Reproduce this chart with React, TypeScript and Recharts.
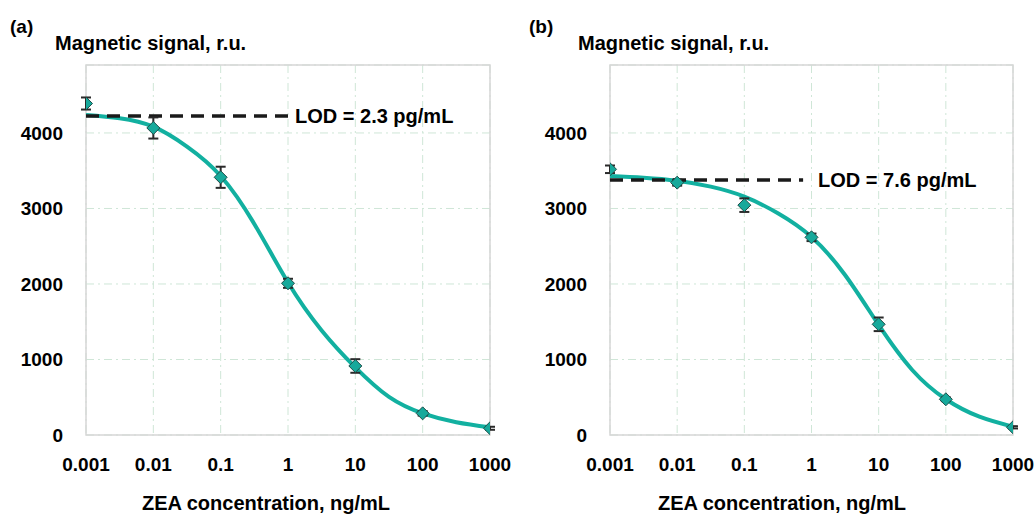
import React from 'react';
import {
  ComposedChart,
  Line,
  Scatter,
  ErrorBar,
  XAxis,
  YAxis,
  CartesianGrid,
  ReferenceLine,
  ReferenceArea,
} from 'recharts';

// Concentrations (ng/mL)
const concentrations = [0.001, 0.01, 0.1, 1, 10, 100, 1000];
const xTicks = [0.001, 0.01, 0.1, 1, 10, 100, 1000];
const yTicks = [0, 1000, 2000, 3000, 4000];

// Panel (a) measured points
const signalA = [4390, 4066, 3413, 2009, 914, 287, 89];
const errA = [80, 140, 140, 60, 90, 30, 20];
// Panel (b) measured points
const signalB = [3519, 3342, 3044, 2618, 1466, 473, 102];
const errB = [50, 40, 90, 50, 90, 25, 15];

// Fitted curves at decades and half-decades
const curveX = [0.001, 0.00316, 0.01, 0.0316, 0.1, 0.316, 1, 3.16, 10, 31.6, 100, 316, 1000];
const curveA = [4238, 4195, 4083, 3819, 3430, 2795, 2020, 1385, 896, 505, 287, 170, 102];
const curveB = [3430, 3408, 3368, 3289, 3157, 2936, 2622, 2119, 1457, 861, 473, 242, 110];

// LOD lines
const lodA = { y: 4225, xEnd: 1, label: 'LOD = 2.3 pg/mL' };
const lodB = { y: 3377, xEnd: 0.75, label: 'LOD = 7.6 pg/mL' };

const FONT = '"Liberation Sans", Arial, sans-serif';
const TEAL = '#12b0a0';
const GRID = '#cfe6d7';
const FRAME = '#d6d6d6';

const pointsA = concentrations.map((x, i) => ({ x, y: signalA[i], err: errA[i] }));
const pointsB = concentrations.map((x, i) => ({ x, y: signalB[i], err: errB[i] }));
const fitA = curveX.map((x, i) => ({ x, y: curveA[i] }));
const fitB = curveX.map((x, i) => ({ x, y: curveB[i] }));

const Diamond = (props: any) => {
  const { cx, cy } = props;
  if (cx == null || cy == null) return null;
  const r = 6.5;
  return (
    <polygon
      points={`${cx},${cy - r} ${cx + r},${cy} ${cx},${cy + r} ${cx - r},${cy}`}
      fill="#17a99b"
      stroke="#1f4f4a"
      strokeWidth={1}
    />
  );
};

const tickStyle = { fontFamily: FONT, fontSize: 19, fontWeight: 700, fill: '#000' };

type PanelProps = {
  points: { x: number; y: number; err: number }[];
  fit: { x: number; y: number }[];
  lod: { y: number; xEnd: number; label: string };
  left: number;
  yAxisWidth: number;
  rightMargin: number;
  labelOffset: number;
};

const Panel = ({ points, fit, lod, left, yAxisWidth, rightMargin, labelOffset }: PanelProps) => (
  <div style={{ position: 'absolute', left, top: 0 }}>
    <ComposedChart
      width={518}
      height={516}
      margin={{ top: 65, right: rightMargin, bottom: 51, left: 0 }}
    >
      <CartesianGrid stroke={GRID} strokeDasharray="8 4 2 4" strokeWidth={1} />
      <XAxis
        type="number"
        dataKey="x"
        scale="log"
        domain={[0.001, 1000]}
        ticks={xTicks}
        allowDataOverflow
        height={30}
        axisLine={false}
        tickLine={false}
        tickSize={0}
        tickMargin={23}
        tick={tickStyle}
        interval={0}
      />
      <YAxis
        type="number"
        dataKey="y"
        domain={[0, 4900]}
        ticks={yTicks}
        allowDataOverflow
        width={yAxisWidth}
        axisLine={false}
        tickLine={false}
        tickSize={0}
        tickMargin={23}
        tick={tickStyle}
        interval={0}
      />
      <ReferenceArea
        x1={0.001}
        x2={1000}
        y1={0}
        y2={4900}
        fill="none"
        stroke={FRAME}
        strokeWidth={1.5}
        ifOverflow="visible"
      />
      <Line
        data={fit}
        dataKey="y"
        type="natural"
        stroke={TEAL}
        strokeWidth={4}
        dot={false}
        activeDot={false}
        isAnimationActive={false}
      />
      <ReferenceLine
        segment={[
          { x: 0.001, y: lod.y },
          { x: lod.xEnd, y: lod.y },
        ]}
        stroke="#1a1a1a"
        strokeWidth={3.5}
        strokeDasharray="13 8"
        ifOverflow="visible"
        label={{
          value: lod.label,
          position: 'right',
          offset: labelOffset,
          style: { fontFamily: FONT, fontSize: 20, fontWeight: 700, fill: '#000' },
        }}
      />
      <Scatter data={points} dataKey="y" shape={Diamond} isAnimationActive={false}>
        <ErrorBar dataKey="err" direction="y" width={5} strokeWidth={2} stroke="#2a2a2a" />
      </Scatter>
    </ComposedChart>
  </div>
);

const textStyle: React.CSSProperties = { fontFamily: FONT, fontWeight: 700, fill: '#000' } as any;

export default function App() {
  return (
    <div
      style={{
        position: 'absolute',
        left: 0,
        top: 0,
        width: 1036,
        height: 516,
        background: '#fff',
        overflow: 'hidden',
      }}
    >
      <Panel
        points={pointsA}
        fit={fitA}
        lod={lodA}
        left={0}
        yAxisWidth={86}
        rightMargin={28}
        labelOffset={7}
      />
      <Panel
        points={pointsB}
        fit={fitB}
        lod={lodB}
        left={518}
        yAxisWidth={92}
        rightMargin={23}
        labelOffset={15}
      />
      <svg
        width={1036}
        height={516}
        style={{ position: 'absolute', left: 0, top: 0, pointerEvents: 'none' }}
      >
        <text x={10} y={33} fontSize={19} style={textStyle}>(a)</text>
        <text x={529} y={33} fontSize={19} style={textStyle}>(b)</text>
        <text x={55} y={50} fontSize={20} style={textStyle}>Magnetic signal, r.u.</text>
        <text x={578} y={50} fontSize={20} style={textStyle}>Magnetic signal, r.u.</text>
        <text x={266} y={510} fontSize={20} textAnchor="middle" style={textStyle}>
          ZEA concentration, ng/mL
        </text>
        <text x={782} y={510} fontSize={20} textAnchor="middle" style={textStyle}>
          ZEA concentration, ng/mL
        </text>
      </svg>
    </div>
  );
}
